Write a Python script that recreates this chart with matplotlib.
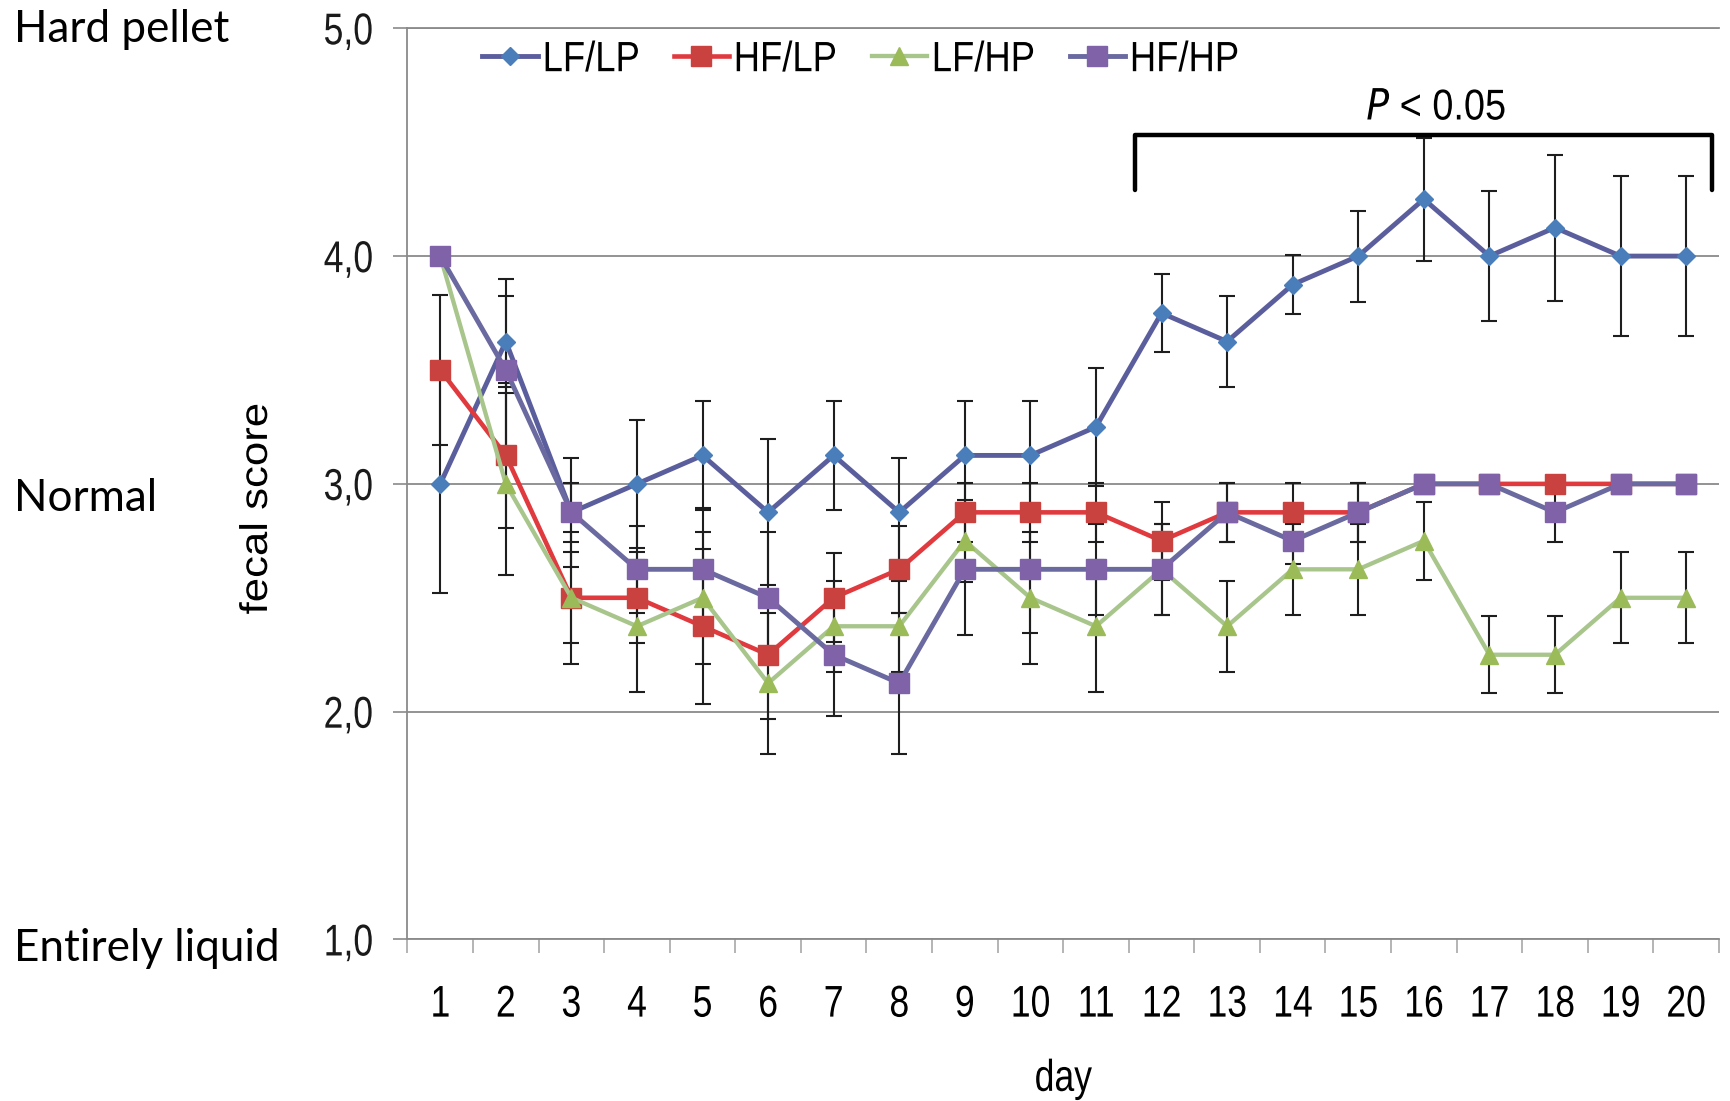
import matplotlib
matplotlib.use("Agg")
import matplotlib.pyplot as plt
from matplotlib.ticker import FixedLocator, NullFormatter
from matplotlib.patheffects import AbstractPathEffect
from matplotlib.transforms import Affine2D

# ---- data -------------------------------------------------------------
days = list(range(1, 21))
day_labels = [str(d) for d in days]

y_ticks = [1.0, 2.0, 3.0, 4.0, 5.0]
y_tick_labels = ["1,0", "2,0", "3,0", "4,0", "5,0"]

series_names = ["LF/LP", "HF/LP", "LF/HP", "HF/HP"]

lf_lp = [3.0, 3.625, 2.875, 3.0, 3.125, 2.875, 3.125, 2.875, 3.125, 3.125,
         3.25, 3.75, 3.625, 3.875, 4.0, 4.25, 4.0, 4.125, 4.0, 4.0]
lf_lp_err = [0.48, 0.2, 0.24, 0.28, 0.24, 0.32, 0.24, 0.24, 0.24, 0.24,
             0.26, 0.17, 0.2, 0.13, 0.2, 0.27, 0.285, 0.32, 0.35, 0.35]

hf_lp = [3.5, 3.125, 2.5, 2.5, 2.375, 2.25, 2.5, 2.625, 2.875, 2.875,
         2.875, 2.75, 2.875, 2.875, 2.875, 3.0, 3.0, 3.0, 3.0, 3.0]
hf_lp_err = [0.33, 0.32, 0.2, 0.2, 0.34, 0.28, 0.195, 0.19, 0.13, 0.13,
             0.13, 0.17, 0.13, 0.13, 0.13, 0.0, 0.0, 0.0, 0.0, 0.0]

lf_hp = [4.0, 3.0, 2.5, 2.375, 2.5, 2.125, 2.375, 2.375, 2.75, 2.5,
         2.375, 2.625, 2.375, 2.625, 2.625, 2.75, 2.25, 2.25, 2.5, 2.5]
lf_hp_err = [0.0, 0.4, 0.29, 0.29, 0.29, 0.31, 0.2, 0.2, 0.18, 0.29,
             0.29, 0.2, 0.2, 0.2, 0.2, 0.17, 0.17, 0.17, 0.2, 0.2]

hf_hp = [4.0, 3.5, 2.875, 2.625, 2.625, 2.5, 2.25, 2.125, 2.625, 2.625,
         2.625, 2.625, 2.875, 2.75, 2.875, 3.0, 3.0, 2.875, 3.0, 3.0]
hf_hp_err = [0.0, 0.4, 0.13, 0.19, 0.27, 0.29, 0.27, 0.31, 0.29, 0.28,
             0.2, 0.2, 0.13, 0.1, 0.13, 0.0, 0.0, 0.13, 0.0, 0.0]

# first day of the significant period and the label above it
sig_start_day = 12
sig_label = "$\\it{P}$ < 0.05"

score_labels = ["Hard pellet", "Normal", "Entirely liquid"]


# ---- condensed text ---------------------------------------------------
class Squeeze(AbstractPathEffect):
    """Draw text glyphs scaled by (sx, sy) about an anchor of the string."""

    def __init__(self, sx=1.0, sy=1.0, anchor="center"):
        super().__init__()
        self.sx = sx
        self.sy = sy
        self.anchor = anchor

    def draw_path(self, renderer, gc, tpath, affine, rgbFace=None):
        ext = tpath.get_extents()
        if self.anchor == "left":
            cx = 0.0
        elif self.anchor == "right":
            cx = ext.x1
        else:
            cx = 0.5 * (ext.x0 + ext.x1)
        cy = 0.5 * (ext.y0 + ext.y1)
        t = (Affine2D().translate(-cx, -cy).scale(self.sx, self.sy)
             .translate(cx, cy) + affine)
        renderer.draw_path(gc, tpath, t, rgbFace)


# ---- style ------------------------------------------------------------
sans = ["Liberation Sans", "DejaVu Sans"]
side_font = ["Lato", "Open Sans", "DejaVu Sans"]

styles = [
    dict(color="#5B5E9D", marker="D", mfc="#4A7EBB", mec="#4A7EBB", ms=9.2, lw=3.5),
    dict(color="#E0393E", marker="s", mfc="#C9423F", mec="#C9423F", ms=14.0, lw=3.3),
    dict(color="#A8C58C", marker="^", mfc="#9BBB59", mec="#9BBB59", ms=13.0, lw=3.1),
    dict(color="#6A69A0", marker="s", mfc="#7F62A8", mec="#7F62A8", ms=14.0, lw=3.5),
]
grid_col = "#8A8A8A"

fig = plt.figure(figsize=(17.31, 11.01), dpi=100)
ax = fig.add_axes([0.2354, 0.1467, 0.7576, 0.8276])

values = [lf_lp, hf_lp, lf_hp, hf_hp]
errors = [lf_lp_err, hf_lp_err, lf_hp_err, hf_hp_err]

# error bars sit underneath all lines and markers
for vals, errs in zip(values, errors):
    ax.errorbar(days, vals, yerr=errs, fmt="none", ecolor="#1E1E1E",
                elinewidth=1.5, capsize=5.5, capthick=1.5, zorder=2)

handles = []
for i, (vals, name, st) in enumerate(zip(values, series_names, styles)):
    h, = ax.plot(days, vals, label=name, color=st["color"], lw=st["lw"],
                 marker=st["marker"], markersize=st["ms"],
                 markerfacecolor=st["mfc"], markeredgecolor=st["mec"],
                 markeredgewidth=1.0, zorder=3 + i)
    handles.append(h)

# axes limits and ticks
ax.set_xlim(0.5, len(days) + 0.5)
ax.set_ylim(y_ticks[0], y_ticks[-1])

ax.set_xticks(days)
ax.set_xticklabels(day_labels, fontsize=32, family=sans)
ax.xaxis.set_minor_locator(FixedLocator([d - 0.5 for d in days] + [days[-1] + 0.5]))
ax.xaxis.set_minor_formatter(NullFormatter())
ax.tick_params(axis="x", which="major", length=0, pad=32.5)
ax.tick_params(axis="x", which="minor", length=10, width=1.1,
               color="#A0A0A0", direction="out")

ax.set_yticks(y_ticks)
ax.set_yticklabels(y_tick_labels, fontsize=32, family=sans, color="#1A1A1A")
ax.tick_params(axis="y", length=10, width=1.2, color=grid_col,
               direction="out", pad=14.5)

for lbl in ax.get_xticklabels():
    lbl.set_path_effects([Squeeze(sx=0.8, anchor="center")])
for lbl in ax.get_yticklabels():
    lbl.set_path_effects([Squeeze(sx=0.8, anchor="right")])

ax.yaxis.grid(True, color=grid_col, lw=1.3, zorder=0)
ax.set_axisbelow(True)
for side in ("left", "bottom", "top"):
    ax.spines[side].set_color(grid_col)
    ax.spines[side].set_linewidth(1.3)
ax.spines["right"].set_visible(False)

xl = ax.set_xlabel("day", fontsize=32, family=sans)
xl.set_path_effects([Squeeze(sx=0.8, anchor="center")])
ax.xaxis.set_label_coords(0.5, -0.131)

yl = ax.text(-0.1145, 0.473, "fecal score", transform=ax.transAxes, rotation=90,
             ha="center", va="center", fontsize=31.5, family=sans)
yl.set_path_effects([Squeeze(sy=0.88, anchor="center")])

# legend across the top of the plot
leg = ax.legend(handles=handles, loc="center left", bbox_to_anchor=(0.0572, 0.965),
                ncol=4, frameon=False, prop={"family": sans, "size": 30.5},
                handlelength=1.3, handletextpad=0.12, columnspacing=0.42,
                borderpad=0, borderaxespad=0)
for t in leg.get_texts():
    t.set_path_effects([Squeeze(sx=0.86, anchor="left")])

# significance bracket over days 12-20
x0 = sig_start_day - 0.4
x1 = days[-1] + 0.4
ax.plot([x0, x0, x1, x1], [4.29, 4.53, 4.53, 4.29], color="black", lw=3.2,
        solid_joinstyle="round", solid_capstyle="round", clip_on=False, zorder=8)
pt = ax.text((x0 + x1) / 2 + 0.19, 4.56, sig_label, ha="center", va="bottom",
             fontsize=31, family=sans)
pt.set_path_effects([Squeeze(sx=0.88, anchor="center")])

# descriptive labels for the score scale
for text, y_fig in zip(score_labels, [0.9735, 0.5468, 0.1387]):
    fig.text(0.008, y_fig, text, ha="left", va="center",
             fontsize=31.7, family=side_font, color="black")

fig.savefig("out.png", dpi=100, facecolor="white")
